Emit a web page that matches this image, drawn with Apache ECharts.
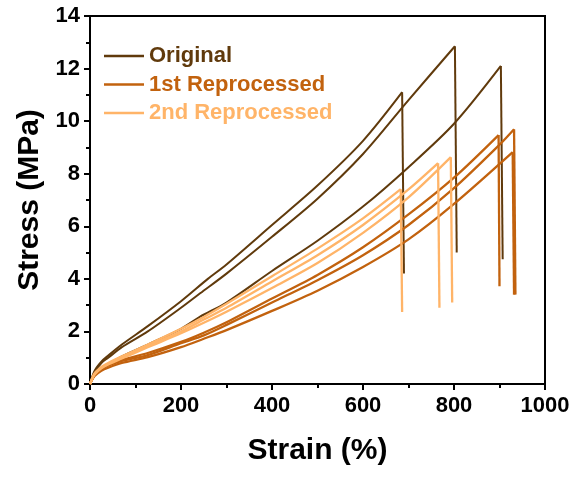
<!DOCTYPE html>
<html>
<head>
<meta charset="utf-8">
<script src="https://cdn.jsdelivr.net/npm/echarts@6/dist/echarts.min.js"></script>
<style>html,body{margin:0;padding:0;background:#fff;}#c{width:576px;height:477px;}</style>
</head>
<body>
<div id="c"></div>
<script>
// Series names
var seriesNames = ['Original', '1st Reprocessed', '2nd Reprocessed'];
var seriesColors = ['#603A0C', '#C2620E', '#FFB468'];

// Original (3 specimens) - last point is the post-fracture drop
var origA_strain = [0, 10, 25, 40, 70, 127, 200, 259, 300, 400, 500, 600, 686, 690];
var origA_stress = [0, 0.5, 0.85, 1.08, 1.5, 2.2, 3.15, 4.0, 4.55, 6.05, 7.55, 9.25, 11.1, 4.2];
var origB_strain = [0, 10, 25, 40, 70, 127, 200, 242, 300, 400, 500, 600, 700, 802, 806];
var origB_stress = [0, 0.45, 0.8, 1.0, 1.4, 2.0, 2.9, 3.45, 4.2, 5.6, 7.05, 8.75, 10.8, 12.85, 5.0];
var origC_strain = [0, 10, 25, 40, 70, 127, 200, 242, 300, 400, 500, 600, 700, 800, 903, 907];
var origC_stress = [0, 0.38, 0.62, 0.75, 1.05, 1.5, 2.1, 2.56, 3.1, 4.3, 5.45, 6.75, 8.25, 9.9, 12.1, 4.75];

// 1st Reprocessed (3 specimens)
var rep1A_strain = [0, 10, 25, 40, 70, 127, 200, 250, 300, 400, 500, 600, 700, 800, 898, 900];
var rep1A_stress = [0, 0.35, 0.6, 0.75, 0.92, 1.18, 1.6, 1.95, 2.35, 3.25, 4.15, 5.2, 6.45, 7.85, 9.47, 3.72];
var rep1B_strain = [0, 10, 25, 40, 70, 127, 200, 250, 300, 400, 500, 600, 700, 800, 900, 932, 935];
var rep1B_stress = [0, 0.33, 0.55, 0.7, 0.88, 1.1, 1.55, 1.85, 2.25, 3.1, 3.95, 4.9, 6.05, 7.45, 9.1, 9.69, 3.4];
var rep1C_strain = [0, 10, 25, 40, 70, 127, 200, 250, 300, 400, 500, 600, 700, 800, 929, 932];
var rep1C_stress = [0, 0.3, 0.5, 0.62, 0.8, 1.02, 1.4, 1.72, 2.05, 2.78, 3.55, 4.45, 5.5, 6.85, 8.82, 3.4];

// 2nd Reprocessed (3 specimens)
var rep2A_strain = [0, 10, 25, 40, 70, 127, 200, 250, 300, 400, 500, 600, 683, 686];
var rep2A_stress = [0, 0.4, 0.65, 0.8, 1.05, 1.5, 2.1, 2.55, 3.05, 4.1, 5.15, 6.3, 7.41, 2.74];
var rep2B_strain = [0, 10, 25, 40, 70, 127, 200, 250, 300, 400, 500, 600, 700, 765, 768];
var rep2B_stress = [0, 0.38, 0.62, 0.77, 1.0, 1.45, 2.0, 2.45, 2.9, 3.9, 4.9, 6.05, 7.4, 8.4, 2.9];
var rep2C_strain = [0, 10, 25, 40, 70, 127, 200, 250, 300, 400, 500, 600, 700, 793, 796];
var rep2C_stress = [0, 0.36, 0.6, 0.74, 0.97, 1.4, 1.93, 2.33, 2.75, 3.65, 4.6, 5.75, 7.1, 8.63, 3.1];

// Axis ticks
var xTicks = [0, 200, 400, 600, 800, 1000];
var yTicks = [0, 2, 4, 6, 8, 10, 12, 14];

function zip(xs, ys) { return xs.map(function (x, i) { return [x, ys[i]]; }); }

var curves = [
  {g: 0, x: origA_strain, y: origA_stress},
  {g: 0, x: origB_strain, y: origB_stress},
  {g: 0, x: origC_strain, y: origC_stress},
  {g: 1, x: rep1A_strain, y: rep1A_stress},
  {g: 1, x: rep1B_strain, y: rep1B_stress},
  {g: 1, x: rep1C_strain, y: rep1C_stress},
  {g: 2, x: rep2A_strain, y: rep2A_stress},
  {g: 2, x: rep2B_strain, y: rep2B_stress},
  {g: 2, x: rep2C_strain, y: rep2C_stress}
];

var FONT = 'Arial, "Liberation Sans", sans-serif';

var series = [];
curves.forEach(function (c) {
  var pts = zip(c.x, c.y);
  var n = pts.length;
  var style = {color: seriesColors[c.g], width: c.g === 0 ? 2 : 2.3};
  // loading part up to fracture (smooth)
  series.push({
    name: seriesNames[c.g], type: 'line', data: pts.slice(0, n - 1),
    symbol: 'none', smooth: 0.3, lineStyle: style, itemStyle: {color: seriesColors[c.g]},
    animation: false
  });
  // fracture drop (straight)
  series.push({
    name: seriesNames[c.g], type: 'line', data: pts.slice(n - 2),
    symbol: 'none', smooth: false, lineStyle: style, itemStyle: {color: seriesColors[c.g]},
    animation: false
  });
});

var chart = echarts.init(document.getElementById('c'));
chart.setOption({
  backgroundColor: '#fff',
  animation: false,
  grid: {left: 90, right: 31, top: 16, bottom: 93, show: true, borderColor: '#000', borderWidth: 2, backgroundColor: 'transparent'},
  legend: {
    orient: 'vertical',
    left: 104,
    top: 45,
    padding: 0,
    itemWidth: 40,
    itemHeight: 2.5,
    itemGap: 6.5,
    icon: 'rect',
    selectedMode: false,
    textStyle: {fontFamily: FONT, fontSize: 22, fontWeight: 'bold'},
    data: seriesNames.map(function (n, i) {
      return {name: n, itemStyle: {color: seriesColors[i]}, textStyle: {color: seriesColors[i]}};
    })
  },
  xAxis: {
    type: 'value',
    min: xTicks[0],
    max: xTicks[xTicks.length - 1],
    interval: xTicks[1] - xTicks[0],
    name: 'Strain (%)',
    nameLocation: 'middle',
    nameGap: 52,
    nameTextStyle: {fontFamily: FONT, fontSize: 30, fontWeight: 'bold', color: '#000'},
    axisLine: {show: true, onZero: false, lineStyle: {color: '#000', width: 2}},
    axisTick: {show: true, inside: false, length: 6, lineStyle: {color: '#000', width: 2}},
    minorTick: {show: true, splitNumber: 2, length: 4, lineStyle: {color: '#000', width: 2}},
    splitLine: {show: false},
    axisLabel: {margin: 11, fontFamily: FONT, fontSize: 22, fontWeight: 'bold', color: '#000',
      formatter: function (v) { return String(v); }}
  },
  yAxis: {
    type: 'value',
    min: yTicks[0],
    max: yTicks[yTicks.length - 1],
    interval: yTicks[1] - yTicks[0],
    name: 'Stress (MPa)',
    nameLocation: 'middle',
    nameGap: 45,
    nameTextStyle: {fontFamily: FONT, fontSize: 30, fontWeight: 'bold', color: '#000'},
    axisLine: {show: true, onZero: false, lineStyle: {color: '#000', width: 2}},
    axisTick: {show: true, inside: false, length: 6, lineStyle: {color: '#000', width: 2}},
    minorTick: {show: true, splitNumber: 2, length: 4, lineStyle: {color: '#000', width: 2}},
    splitLine: {show: false},
    axisLabel: {margin: 10, fontFamily: FONT, fontSize: 22, fontWeight: 'bold', color: '#000',
      formatter: function (v) { return String(v); }}
  },
  series: series
});
</script>
</body>
</html>
